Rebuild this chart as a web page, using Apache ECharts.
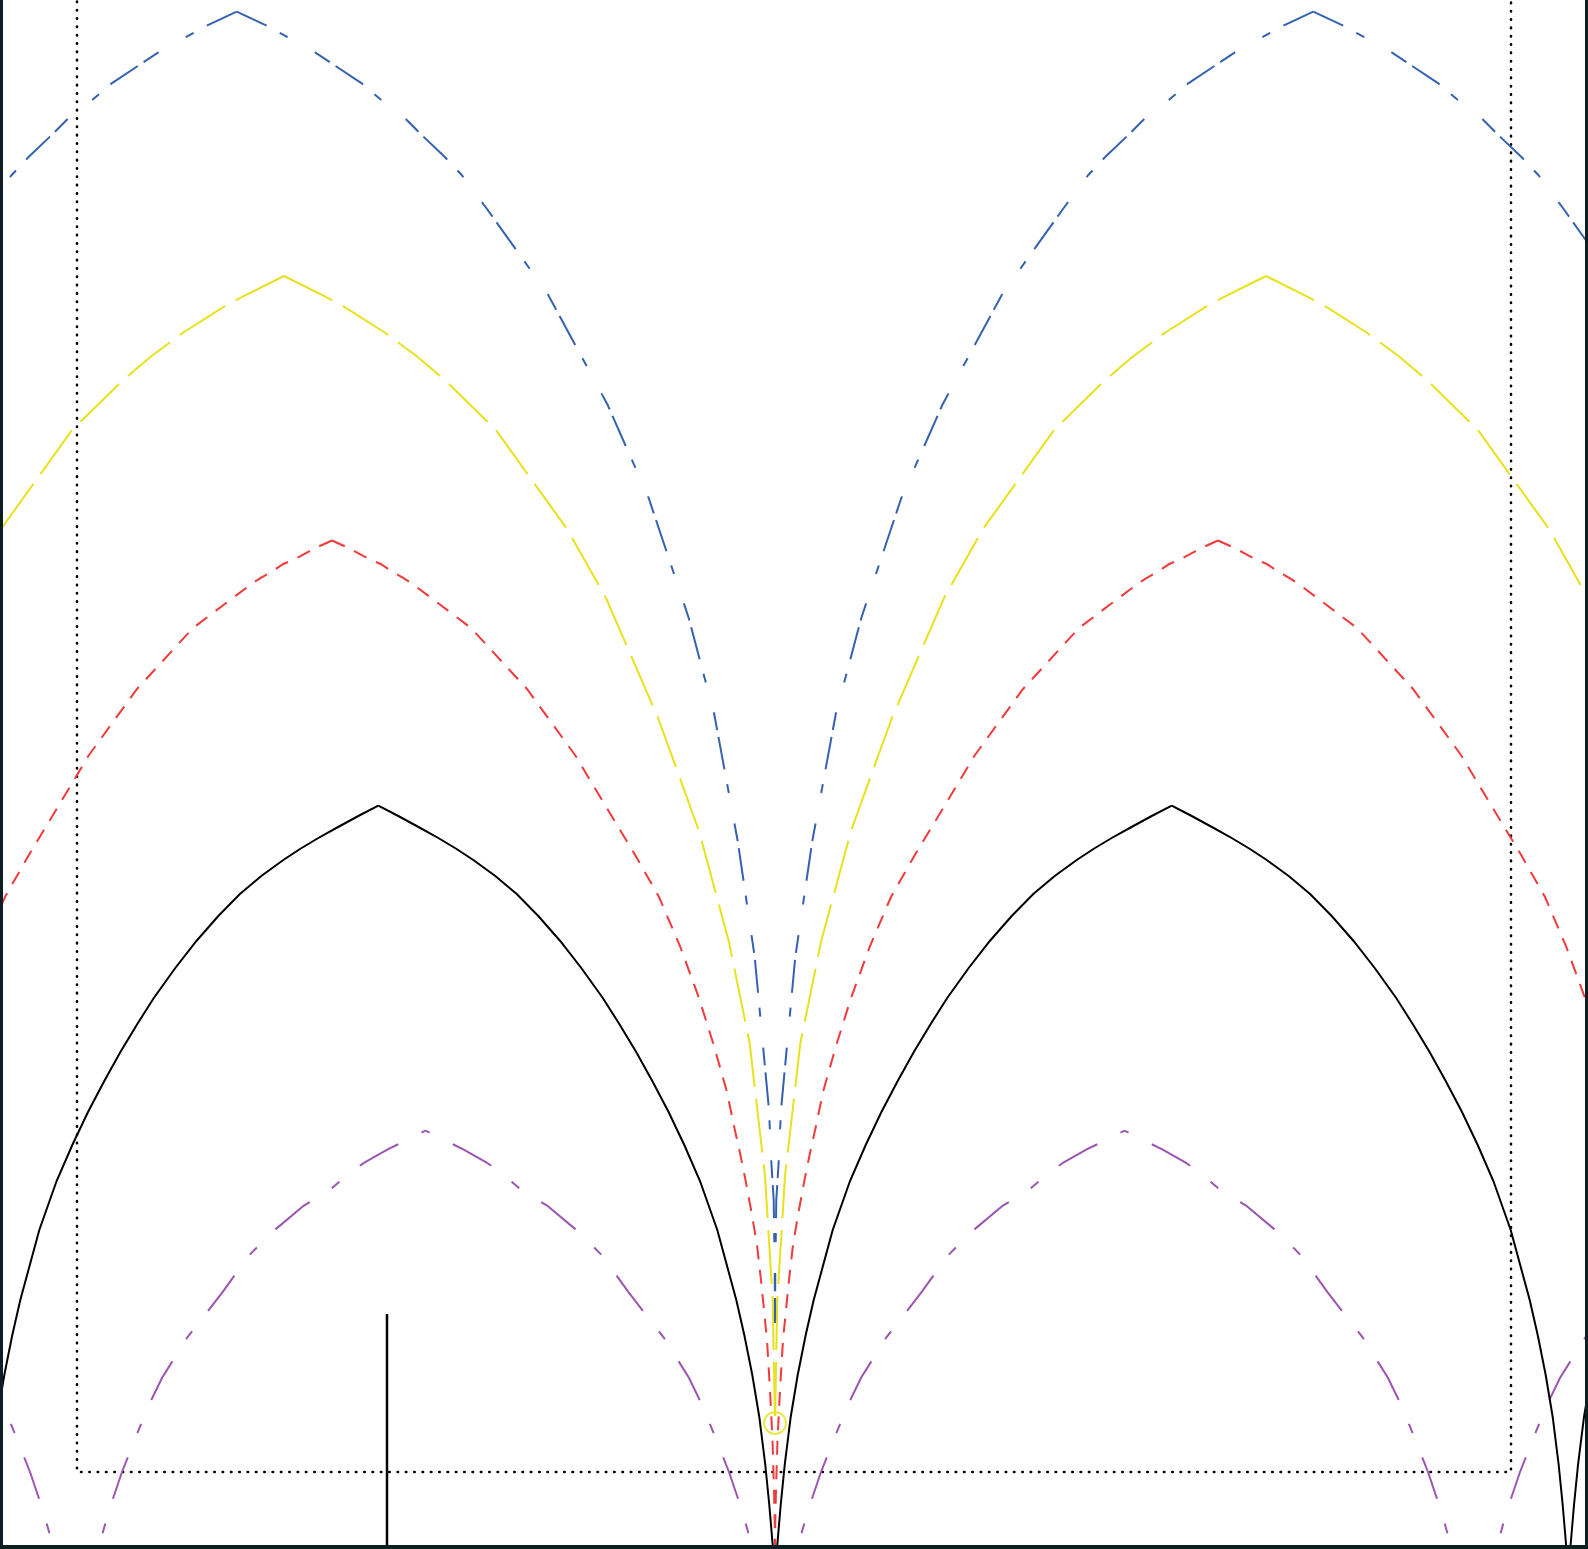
<!DOCTYPE html>
<html><head><meta charset="utf-8">
<script src="https://cdn.jsdelivr.net/npm/echarts@6/dist/echarts.min.js"></script>
<style>html,body{margin:0;padding:0;background:#fff;}#c{width:1588px;height:1549px;}</style>
</head><body><div id="c"></div>
<script>
// Peaks (x) of each series, and the half-arch profile:
// offset from the peak (dx) and the value at that offset (y).
const bluePeaks = [-53.83, 53.83];
const blueDx = [0,3,5,7.84,9.84,12.5,14.34,16.84,18.5,20.84,22.5,24.96,31.1,37.1,41.2,45.2,47.75,50.1,51.8,53.23,53.45,53.7,53.8,53.83];
const blueY  = [154.83,153.43,152.33,150.77,149.43,147.67,146.1,144.17,142.5,140.27,138.5,135.2,126.6,115.5,106.2,94.2,84.6,71.9,60.3,45,40,36,29,23.7];

const yellowPeaks = [-49.1, 49.1];
const yellowDx = [0,4.33,6.0,10.1,13.4,16.27,21.24,28.3,32.2,37.45,41.5,44.5,46.57,47.17,48.09,48.87,49.1];
const yellowY  = [128.4,126.23,125.33,122.73,120.27,117.83,112.94,103.1,96.2,84.1,72.9,61.8,51.65,46.4,38.5,26,13.7];

const redPeaks = [-44.3, 44.3];
const redDx = [0,1.37,2.47,3.7,4.87,6.03,7.2,8.2,10.63,13.9,19.5,24.3,27.6,30.2,32.7,34.8,36.7,38.2,39.5,40.2,40.8,41.35,42.0,42.5,42.9,43.2,43.5,43.8,44.05,44.2,44.28,44.3];
const redY  = [101.95,101.33,100.77,100.1,99.6,98.83,98.17,97.5,95.67,93.2,87.1,80.5,75,70.7,66.3,61.4,56.2,51.4,46.8,43.4,40.7,38,34.5,31.5,28,25,22,17,12,7,3.5,0];

const blackPeaks = [-39.67, 39.67, 119.0];
const blackDx = [0,2,4.2,6,7.83,9.5,11.7,13.84,16,18.19,20.3,22.45,24.1,25.79,27.4,29.03,30.6,32.17,33.9,35.8,36.6,37.4,38.1,38.7,39.1,39.44,39.67];
const blackY  = [75.43,74.4,73.2,72.2,71.1,70.0,68.4,66.6,64.4,61.9,59.2,56.2,53.6,50.8,47.9,44.8,41.5,37.9,33.0,26,22.5,18.5,14.3,9.5,5.5,1.5,-1];

const purplePeaks = [-104.85, -34.95, 34.95, 104.85];
const purpleDx = [0,2.88,3.78,6.12,7.45,9.62,12.16,15.2,17.73,20.26,23.81,26.34,27.62,28.85,30.35,31.58,32.68,34.95];
const purpleY  = [42.93,41.5,41.07,39.73,38.83,36.96,35.44,32.9,30.38,26.83,22.27,18.22,15.6,12.6,8.8,5.17,1.33,-6.6];

const stemX = -38.8, stemTop = 24.6;
const markerPoint = [0, 13.7];
const frameLeft = -69.8, frameRight = 73.6, frameBottom = 8.8, frameTop = 170;

function arches(peaks, dx, y) {
  const out = [];
  peaks.forEach(p => {
    for (let i = 0; i < dx.length; i++) out.push([p - dx[i], y[i]]);
    out.push(null);
    for (let i = 0; i < dx.length; i++) out.push([p + dx[i], y[i]]);
    out.push(null);
  });
  return out;
}

function lineSeries(name, data, color, type, width, z, offset, cap) {
  return {
    name, type: 'line', data, showSymbol: false, connectNulls: false,
    animation: false, z: z, silent: true,
    lineStyle: { color, width: width, type: type, dashOffset: offset || 0, cap: cap || 'butt', join: 'miter' }
  };
}

const chart = echarts.init(document.getElementById('c'), null, { renderer: 'canvas' });
const borderColor = '#0c1e20';
chart.setOption({
  animation: false,
  backgroundColor: '#ffffff',
  grid: { left: 3, right: 3, top: 0, bottom: 4, show: false },
  xAxis: { type: 'value', min: -77.2, max: 81.0, show: false },
  yAxis: { type: 'value', min: 1.5, max: 156.0, show: false },
  series: [
    lineSeries('frame', [[frameLeft, frameTop], [frameLeft, frameBottom], [frameRight, frameBottom], [frameRight, frameTop]], '#000000', [0.5, 7.83], 2.6, 1, 0, 'round'),
    lineSeries('purple', arches(purplePeaks, purpleDx, purpleY), '#9c55b0', [44, 26, 10, 26], 2, 2, 75.5),
    lineSeries('red', arches(redPeaks, redDx, redY), '#f03a3c', [14, 10.5], 2, 3, 0),
    lineSeries('yellow', arches(yellowPeaks, yellowDx, yellowY), '#e8e11c', [54, 12], 2, 4, 0),
    lineSeries('blue', arches(bluePeaks, blueDx, blueY), '#3562b0', [33, 15, 9, 31, 18, 7], 2, 5, 0),
    lineSeries('black', arches(blackPeaks, blackDx, blackY), '#000000', 'solid', 2, 6, 0),
    lineSeries('stem', [[stemX, -5], [stemX, stemTop]], '#000000', 'solid', 2.5, 6, 0),
    {
      type: 'scatter', data: [markerPoint], symbol: 'circle', symbolSize: 22, z: 7, silent: true,
      itemStyle: { color: 'rgba(0,0,0,0)', borderColor: '#e8e11c', borderWidth: 2 }
    }
  ],
  graphic: [
    { type: 'rect', left: 0, top: 0, shape: { width: 3, height: 1549 }, style: { fill: borderColor }, z: 100 },
    { type: 'rect', right: 0, top: 0, shape: { width: 3, height: 1549 }, style: { fill: borderColor }, z: 100 },
    { type: 'rect', left: 0, bottom: 0, shape: { width: 1588, height: 4 }, style: { fill: borderColor }, z: 100 }
  ]
});
</script></body></html>
